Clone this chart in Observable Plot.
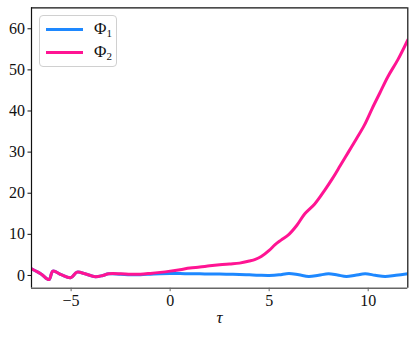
<!DOCTYPE html>
<html>
<head>
<meta charset="utf-8">
<script src="https://cdn.jsdelivr.net/npm/d3@7"></script>
<script src="https://cdn.jsdelivr.net/npm/@observablehq/plot@0.6"></script>
<style>
  body { margin: 0; background: white; }
  #wrap { position: relative; width: 415px; height: 337px; font-family: 'Liberation Serif', 'DejaVu Serif', serif; }
  #wrap svg text { font-family: 'Liberation Serif', 'DejaVu Serif', serif; }
  #legend { position: absolute; left: 39px; top: 15px; width: 78px; height: 52px; border: 1px solid #d0d0d0; border-radius: 4px; background: rgba(255,255,255,0.85); box-sizing: border-box; }
  .lg-line { position: absolute; left: 6px; width: 37px; height: 3px; }
  .lg-text { position: absolute; left: 54px; font-size: 17px; line-height: 17px; color: #111; }
  .lg-text sub { font-size: 11px; vertical-align: -3px; line-height: 0; }
</style>
</head>
<body>
<div id="wrap"></div>
<script>
// Series 1 (Φ1, blue)
const tau1 = [-7, -6.5, -6.12, -5.92, -5.5, -5.03, -4.7, -4.3, -3.77, -3.4, -3.1, -2.5, -2, -1.5, -1, -0.5, 0, 0.5, 1, 1.5, 2, 2.5, 3, 3.5, 4, 4.5, 5, 5.5, 6.0, 6.5, 7.0, 7.5, 8.0, 8.45, 8.9, 9.35, 9.85, 10.35, 10.85, 11.4, 12];
const phi1 = [1.6, 0.3, -1.0, 1.05, 0.2, -0.57, 0.8, 0.4, -0.3, 0.0, 0.4, 0.3, 0.2, 0.2, 0.3, 0.4, 0.45, 0.45, 0.4, 0.4, 0.35, 0.35, 0.3, 0.25, 0.15, 0.05, 0.0, 0.15, 0.5, 0.15, -0.25, 0.05, 0.4, 0.1, -0.25, 0.05, 0.4, 0.05, -0.25, 0.05, 0.4];
// Series 2 (Φ2, pink)
const tau2 = [-7, -6.5, -6.12, -5.92, -5.5, -5.03, -4.7, -4.3, -3.77, -3.4, -3.1, -2.5, -2, -1.5, -1, -0.5, 0, 0.5, 1, 1.5, 2, 2.5, 3, 3.5, 4, 4.3, 4.6, 5.0, 5.3, 5.6, 6.0, 6.4, 6.8, 7.3, 7.8, 8.2, 8.6, 9.0, 9.4, 9.8, 10.2, 10.6, 11.0, 11.5, 12];
const phi2 = [1.6, 0.3, -1.0, 1.05, 0.2, -0.57, 0.8, 0.4, -0.3, 0.0, 0.4, 0.4, 0.3, 0.3, 0.5, 0.75, 1.05, 1.4, 1.8, 2.05, 2.35, 2.6, 2.8, 3.0, 3.5, 3.9, 4.6, 6.1, 7.5, 8.6, 10.0, 12.2, 15.0, 17.4, 20.7, 23.6, 26.8, 30.0, 33.2, 36.5, 40.6, 44.5, 48.4, 52.5, 57.3];
// Axis ticks
const xTicks = [-5, 0, 5, 10];
const yTicks = [0, 10, 20, 30, 40, 50, 60];
const xDomain = [-7, 12];
const yDomain = [-3.1, 65.1];

const s1 = tau1.map((t, i) => ({t, v: phi1[i]}));
const s2 = tau2.map((t, i) => ({t, v: phi2[i]}));

const fmt = d => d < 0 ? "\u2212" + Math.abs(d) : String(d);

const chart = Plot.plot({
  width: 415,
  height: 337,
  marginLeft: 31,
  marginRight: 7.7,
  marginTop: 7.3,
  marginBottom: 49.3,
  style: { fontFamily: "'Liberation Serif', 'DejaVu Serif', serif", fontSize: "16px", background: "white", color: "#111" },
  x: { domain: xDomain, label: null },
  y: { domain: yDomain, label: null },
  marks: [
    Plot.line(s1, { x: "t", y: "v", stroke: "#1E88FF", strokeWidth: 3, curve: "catmull-rom", clip: true }),
    Plot.line(s2, { x: "t", y: "v", stroke: "#FF1493", strokeWidth: 3, curve: "catmull-rom", clip: true }),
    Plot.ruleY([yDomain[1]], { stroke: "#111", strokeWidth: 1.2 }),
    Plot.ruleX([xDomain[0]], { stroke: "#111", strokeWidth: 1.2 }),
    Plot.ruleX([xDomain[1]], { stroke: "#111", strokeWidth: 1.2 }),
    Plot.ruleY([yDomain[0]], { stroke: "#666", strokeWidth: 1.6 }),
    Plot.axisX(xTicks, { tickSize: 3.5, tickPadding: 3, stroke: "#666", tickFormat: fmt, fontSize: 16, label: null }),
    Plot.axisY(yTicks, { tickSize: 3.5, tickPadding: 3, stroke: "#111", fontSize: 16, label: null }),
    Plot.text(["\u03C4"], { frameAnchor: "bottom", dy: 35, fontStyle: "italic", fontSize: 17, fill: "#111" })
  ]
});

const wrap = document.getElementById("wrap");
wrap.appendChild(chart);

const legend = document.createElement("div");
legend.id = "legend";
legend.innerHTML = `
  <div class="lg-line" style="top:11.5px;background:#1E88FF"></div>
  <div class="lg-text" style="top:3.5px">\u03A6<sub>1</sub></div>
  <div class="lg-line" style="top:35px;background:#FF1493"></div>
  <div class="lg-text" style="top:27px">\u03A6<sub>2</sub></div>`;
wrap.appendChild(legend);
</script>
</body>
</html>
